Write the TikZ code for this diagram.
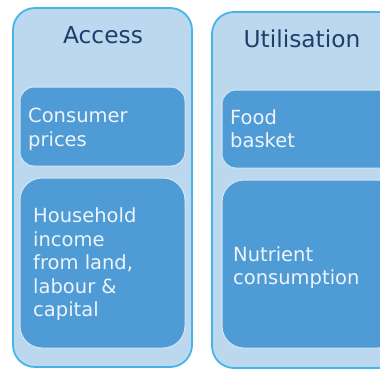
\documentclass[tikz,border=0pt]{standalone}
\usepackage{fontspec}
\setmainfont{DejaVu Sans}
\definecolor{outerfill}{HTML}{BCD8EE}
\definecolor{outerline}{HTML}{45B5E8}
\definecolor{innerfill}{HTML}{4F9BD6}
\definecolor{innerline}{HTML}{D2E6F5}
\definecolor{titlecol}{HTML}{1F3F6A}
\definecolor{textcol}{HTML}{EEF4FA}
\tikzset{
  outerbox/.style={draw=outerline, fill=outerfill, line width=1.8pt, rounded corners=22pt, inner sep=0pt},
  innerbox/.style={draw=innerline, fill=innerfill, line width=1pt, inner sep=0pt},
  titletext/.style={text=titlecol, font=\fontsize{23.3}{28}\selectfont, inner sep=0pt, anchor=base},
  boxtext/.style={text=textcol, font=\fontsize{19.5}{23.5}\selectfont, inner sep=0pt, align=left, anchor=north west},
}
\begin{document}
\begin{tikzpicture}[x=1pt,y=-1pt]
\useasboundingbox (0,0) rectangle (380,370);
\clip (0,0) rectangle (380,370);
\fill[white] (0,0) rectangle (380,370);
% containers
\node[outerbox, minimum width=179pt, minimum height=359pt] (access) at (102.5,187.5) {};
\node[outerbox, minimum width=188pt, minimum height=356pt] (util) at (306,190) {};
% inner boxes
\node[innerbox, rounded corners=14pt, minimum width=165pt, minimum height=79pt] (consumer) at (102.5,126.5) {};
\node[innerbox, rounded corners=22pt, minimum width=165pt, minimum height=170pt] (household) at (102.5,263) {};
\node[innerbox, rounded corners=14pt, minimum width=178pt, minimum height=78pt] (food) at (311,129) {};
\node[innerbox, rounded corners=22pt, minimum width=178pt, minimum height=168pt] (nutrient) at (311,264) {};
% titles
\node[titletext] (accesstitle) at (103,43) {Access};
\node[titletext] (utiltitle) at (302,47) {Utilisation};
% texts
\node[boxtext] (consumertext) at (28,108) {Consumer\\prices};
\node[boxtext] (householdtext) at (33,207.5) {Household\\income\\from land,\\labour \&\\capital};
\node[boxtext] (foodtext) at (230,109) {Food\\basket};
\node[boxtext] (nutrienttext) at (233,246) {Nutrient\\consumption};
\end{tikzpicture}
\end{document}
